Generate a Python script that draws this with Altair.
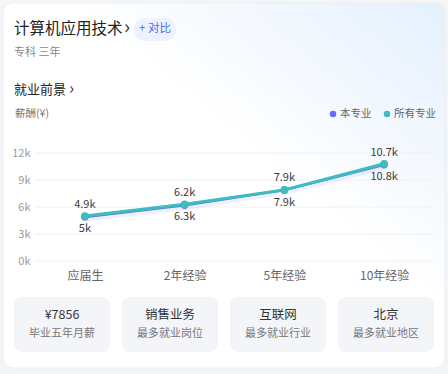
import altair as alt
import pandas as pd

# ---------------- data ----------------
categories = ["应届生", "2年经验", "5年经验", "10年经验"]
series_names = ["本专业", "所有专业"]
major_values = [4.9, 6.2, 7.9, 10.7]     # 本专业 (k)
all_values = [5.0, 6.3, 7.9, 10.8]       # 所有专业 (k)
major_labels = ["4.9k", "6.2k", "7.9k", "10.7k"]
all_labels = ["5k", "6.3k", "7.9k", "10.8k"]
y_ticks = [0, 3, 6, 9, 12]
card_values = ["¥7856", "销售业务", "互联网", "北京"]
card_captions = ["毕业五年月薪", "最多就业岗位", "最多就业行业", "最多就业地区"]

title_text = "计算机应用技术"
subtitle_text = "专科 三年"
section_text = "就业前景"
yunit_text = "薪酬(¥)"
compare_text = "+ 对比"

# ---------------- layout ----------------
W, H = 448, 374
PL, PT, PR, PB = 35, 153, 14, 113
PW, PH = W - PL - PR, H - PT - PB
FONT = "Noto Sans CJK SC"
BLUE = "#5B72F4"
TEAL = "#3DBDBD"

def rx(ax):
    return ax - PL

def ry(ay):
    return ay - PT

rows = []
for i, c in enumerate(categories):
    rows.append({"cat": c, "series": series_names[0], "v": major_values[i], "lab": major_labels[i]})
    rows.append({"cat": c, "series": series_names[1], "v": all_values[i], "lab": all_labels[i]})
df = pd.DataFrame(rows)
grid_df = pd.DataFrame({"v": y_ticks})

one = alt.Data(values=[{}])

x_enc = alt.X("cat:N", sort=categories, scale=alt.Scale(paddingInner=0, paddingOuter=0),
              axis=alt.Axis(title=None, ticks=False, domain=False, grid=False, labelAngle=0, zindex=1,
                            labelFont=FONT, labelFontSize=12, labelColor="#666666", labelPadding=9))
y_enc = alt.Y("v:Q", scale=alt.Scale(domain=[0, 12], nice=False),
              axis=alt.Axis(title=None, values=y_ticks, labelExpr="datum.value + 'k'", ticks=False,
                            domain=False, grid=False, zindex=1, labelFont=FONT,
                            labelFontSize=11, labelColor="#9A9A9A", labelPadding=5))
color_enc = alt.Color("series:N", scale=alt.Scale(domain=series_names, range=[BLUE, TEAL]), legend=None)

base = alt.Chart(df)

# outer card background
card_bg = alt.Chart(one).mark_rect(
    cornerRadius=10, stroke="#ECEEF2", strokeWidth=1,
    fill={"gradient": "linear", "x1": 0.95, "y1": 0, "x2": 0.55, "y2": 0.4,
          "stops": [{"offset": 0, "color": "#E6F1FE"}, {"offset": 1, "color": "#FFFFFF"}]}
).encode(x=alt.value(rx(3)), x2=alt.value(rx(445)), y=alt.value(ry(3)), y2=alt.value(ry(368)))

grid = alt.Chart(grid_df).mark_rule(color="#F0F0F0", strokeWidth=1).encode(
    y=y_enc, x=alt.value(0), x2=alt.value(PW))

major = base.transform_filter(alt.datum.series == series_names[0])
allm = base.transform_filter(alt.datum.series == series_names[1])

glow = major.transform_calculate(lo="datum.v - 0.55").mark_area(color=BLUE, opacity=0.10).encode(
    x=x_enc, y=y_enc, y2="lo:Q")
line_major = major.mark_line(strokeWidth=2.5, color=BLUE).encode(x=x_enc, y=y_enc)
line_all = allm.mark_line(strokeWidth=3, color=TEAL).encode(x=x_enc, y=y_enc)
pts_major = major.mark_circle(size=55, opacity=1).encode(x=x_enc, y=y_enc, color=color_enc)
pts_all = allm.mark_circle(size=60, opacity=1).encode(x=x_enc, y=y_enc, color=color_enc)

lab_major = major.mark_text(dy=-12, font=FONT, fontSize=11, color="#3A3A3A").encode(
    x=x_enc, y=y_enc, text="lab:N")
lab_all = allm.mark_text(dy=13, font=FONT, fontSize=11, color="#3A3A3A").encode(
    x=x_enc, y=y_enc, text="lab:N")

def txt(text, ax, ay, size, color, align="left", weight="normal"):
    return alt.Chart(one).mark_text(text=text, align=align, baseline="middle", font=FONT,
                                    fontSize=size, color=color, fontWeight=weight).encode(
        x=alt.value(rx(ax)), y=alt.value(ry(ay)))

def dot(ax, ay, color):
    return alt.Chart(one).mark_circle(size=42, opacity=1, color=color).encode(
        x=alt.value(rx(ax)), y=alt.value(ry(ay)))

header = [
    txt(title_text, 14, 29, 15.5, "#222222"),
    txt("›", 124, 28, 20, "#333333"),
    alt.Chart(one).mark_rect(cornerRadius=11, fill="#EDF2FE").encode(
        x=alt.value(rx(134)), x2=alt.value(rx(176)), y=alt.value(ry(18)), y2=alt.value(ry(41))),
    txt(compare_text, 155, 29, 11.5, "#4B6EF5", align="center"),
    txt(subtitle_text, 14, 53, 11, "#888888"),
    txt(section_text, 14, 90, 13, "#222222"),
    txt("›", 69, 89, 17, "#333333"),
    txt(yunit_text, 15, 114, 10.5, "#777777"),
    dot(333, 114, BLUE),
    txt(series_names[0], 340, 114, 10.5, "#666666"),
    dot(387, 114, TEAL),
    txt(series_names[1], 394, 114, 10.5, "#666666"),
]

cards = []
for i in range(len(card_values)):
    x0 = 14 + i * 108
    cards.append(alt.Chart(one).mark_rect(cornerRadius=8, fill="#F4F5F9").encode(
        x=alt.value(rx(x0)), x2=alt.value(rx(x0 + 96)), y=alt.value(ry(297)), y2=alt.value(ry(352))))
    cards.append(txt(card_values[i], x0 + 48, 315, 12.5, "#333333", align="center"))
    cards.append(txt(card_captions[i], x0 + 48, 334, 11, "#777777", align="center"))

chart = alt.layer(
    card_bg, *header, *cards, grid, glow,
    line_major, line_all, pts_major, pts_all, lab_major, lab_all,
).properties(
    width=PW, height=PH,
    autosize=alt.AutoSizeParams(type="none"),
    padding={"left": PL, "top": PT, "right": PR, "bottom": PB},
    background="#F4F5F7",
).configure_view(stroke=None, clip=False)

chart.save("out.html", embed_options={"renderer": "svg", "actions": False})
